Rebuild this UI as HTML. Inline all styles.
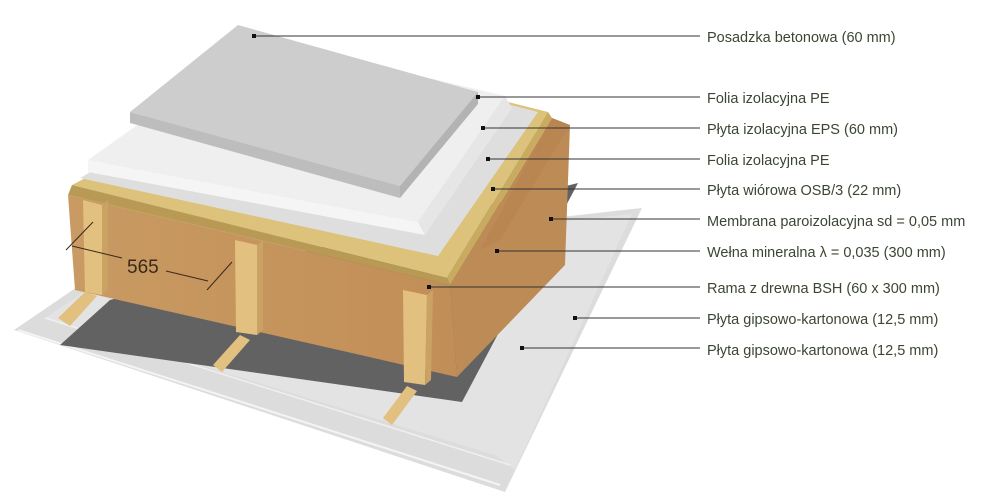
<!DOCTYPE html>
<html><head><meta charset="utf-8"><style>
html,body{margin:0;padding:0;background:#fff;}
svg{display:block;}
text{font-family:"Liberation Sans",sans-serif;}
.l{font-size:14.5px;fill:#3b4632;}
</style></head><body>
<svg width="996" height="500" viewBox="0 0 996 500" xmlns="http://www.w3.org/2000/svg">
<defs>
<linearGradient id="wf" x1="0" y1="0" x2="1" y2="0"><stop offset="0" stop-color="#c99a63"/><stop offset="1" stop-color="#c28e57"/></linearGradient>
</defs>
<!-- gypsum boards -->
<polygon points="14,330 105,268 642,208 505,492" fill="#dcdcdc"/>
<polygon points="45,318 120,268 632,214 515,470 495,455" fill="#e3e3e3"/>
<line x1="18" y1="330" x2="500" y2="485" stroke="#f4f4f4" stroke-width="2"/>
<line x1="45" y1="318" x2="510" y2="465" stroke="#efefef" stroke-width="1.5"/>
<!-- membrane -->
<polygon points="60,345 110,300 578,183 462,402" fill="#626262"/>
<!-- wool -->
<polygon points="68,195 450,285 457,377 75,290" fill="url(#wf)"/>
<polygon points="450,285 552,118 570,125 565,265 457,377" fill="#bd8b55"/>
<polygon points="552,118 570,125 500,240 480,250" fill="#b68450" opacity="0.6"/>
<!-- OSB -->
<polygon points="72,185 447,278 548,112 320,55" fill="#dcc27a"/>
<polygon points="72,185 447,278 450,285 68,195" fill="#b89a55"/>
<polygon points="447,278 548,112 552,118 450,285" fill="#c9ab60"/>
<!-- lower foil -->
<polygon points="80,178 438,256 538,112 300,50" fill="#dedede"/>
<!-- EPS -->
<polygon points="88,160 260,38 505,96 418,222" fill="#efefef"/>
<polygon points="88,160 418,222 425,235 88,172" fill="#f5f5f5"/>
<polygon points="505,96 512,108 425,235 418,222" fill="#e6e6e6"/>
<!-- concrete -->
<polygon points="238,25 478,92 400,186 130,112" fill="#cdcdcd"/>
<polygon points="130,112 400,186 400,198 130,123" fill="#bdbdbd"/>
<polygon points="478,92 478,104 400,198 400,186" fill="#b3b3b3"/>
<!-- studs -->
<g fill="#e2c07f">
<polygon points="83,200 102,205 102,295 85,292"/>
<polygon points="235,240 257,245 257,335 236,332"/>
<polygon points="403,290 427,295 425,385 404,382"/>
<polygon points="58,318 85,292 97,296 70,326"/>
<polygon points="213,365 240,335 250,340 222,372"/>
<polygon points="383,418 407,386 417,391 392,425"/>
</g>
<g fill="#caa263">
<polygon points="102,205 108,200 108,290 102,295"/>
<polygon points="257,245 263,240 263,330 257,335"/>
<polygon points="427,295 433,290 431,380 425,385"/>
</g>
<!-- dimension -->
<g stroke="#3a2a1a" stroke-width="1" fill="none">
<line x1="66" y1="250" x2="93" y2="222"/>
<line x1="72" y1="246" x2="122" y2="258"/>
<line x1="166" y1="271" x2="208" y2="281"/>
<line x1="207" y1="290" x2="232" y2="262"/>
</g>
<text x="127" y="273" font-size="19" fill="#3a2a1a">565</text>
<!-- leader lines -->
<g stroke="#333" stroke-width="1">
<line x1="254" y1="36" x2="700" y2="36"/>
<line x1="478" y1="97" x2="700" y2="97"/>
<line x1="483" y1="128" x2="700" y2="128"/>
<line x1="488" y1="159" x2="700" y2="159"/>
<line x1="493" y1="189" x2="700" y2="189"/>
<line x1="551" y1="219" x2="700" y2="219"/>
<line x1="497" y1="251" x2="700" y2="251"/>
<line x1="429" y1="287" x2="700" y2="287"/>
<line x1="575" y1="318" x2="700" y2="318"/>
<line x1="522" y1="348" x2="700" y2="348"/>
</g>
<g fill="#111">
<rect x="252" y="34" width="4" height="4"/><rect x="476" y="95" width="4" height="4"/>
<rect x="481" y="126" width="4" height="4"/><rect x="486" y="157" width="4" height="4"/>
<rect x="491" y="187" width="4" height="4"/><rect x="549" y="217" width="4" height="4"/>
<rect x="495" y="249" width="4" height="4"/><rect x="427" y="285" width="4" height="4"/>
<rect x="573" y="316" width="4" height="4"/><rect x="520" y="346" width="4" height="4"/>
</g>
<g class="l">
<text x="707" y="42">Posadzka betonowa (60 mm)</text>
<text x="707" y="103">Folia izolacyjna PE</text>
<text x="707" y="134">Płyta izolacyjna EPS (60 mm)</text>
<text x="707" y="165">Folia izolacyjna PE</text>
<text x="707" y="195">Płyta wiórowa OSB/3 (22 mm)</text>
<text x="707" y="226">Membrana paroizolacyjna sd = 0,05 mm</text>
<text x="707" y="257">Wełna mineralna λ = 0,035 (300 mm)</text>
<text x="707" y="293">Rama z drewna BSH (60 x 300 mm)</text>
<text x="707" y="324">Płyta gipsowo-kartonowa (12,5 mm)</text>
<text x="707" y="355">Płyta gipsowo-kartonowa (12,5 mm)</text>
</g>
</svg>
</body></html>
